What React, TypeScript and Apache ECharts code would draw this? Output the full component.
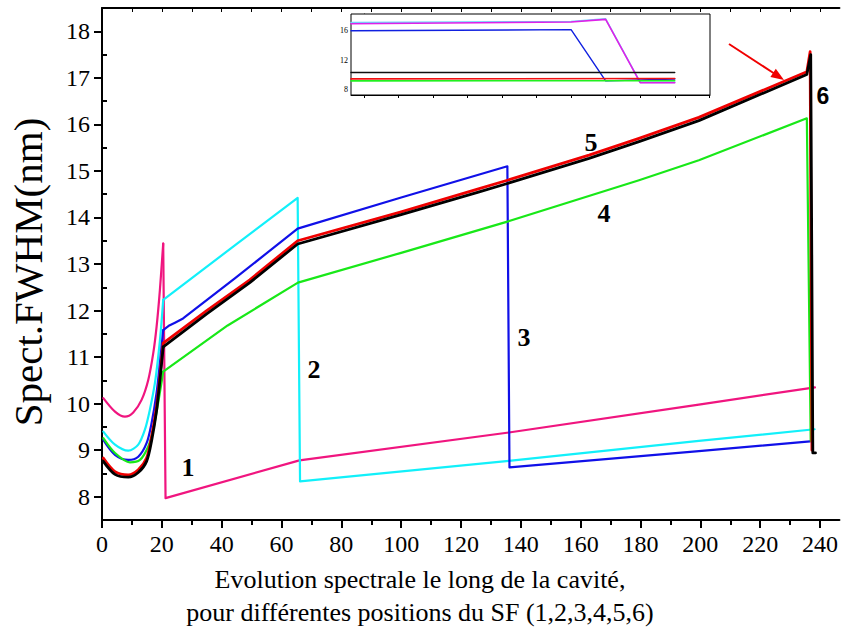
import React, { useEffect, useRef } from "react";
import * as echarts from "echarts";

// ---- axis ticks ----
const xMajor = [0, 20, 40, 60, 80, 100, 120, 140, 160, 180, 200, 220, 240];
const xMinor = [10, 30, 50, 70, 90, 110, 130, 150, 170, 190, 210, 230];
const xTop = [10, 20, 30, 40, 50, 60, 70, 80, 90, 100, 110, 120, 130, 140, 150, 160, 170, 180, 190, 200, 210, 220, 230, 240];
const yMajor = [8, 9, 10, 11, 12, 13, 14, 15, 16, 17, 18];
const yMinor = [8.5, 9.5, 10.5, 11.5, 12.5, 13.5, 14.5, 15.5, 16.5, 17.5];

// ---- main series: [position, FWHM]; "Dip" = curved start (0..20), "Tail" = straight part ----
const s1PinkDip = [
  [0.44, 10.12], [4.34, 9.83], [7.67, 9.72], [10.45, 9.81], [13.23, 10.08], [15.46, 10.51],
  [17.12, 11.08], [18.24, 11.65], [19.35, 12.44], [20.46, 13.44],
];
const s1PinkTail = [[20.46, 13.44], [21.24, 7.97], [66, 8.78], [136, 9.38], [199.5, 9.98], [238.3, 10.35]];

const s2CyanDip = [
  [0.44, 9.4], [4.34, 9.12], [8.78, 8.99], [12.12, 9.12], [14.34, 9.44], [16.0, 9.87],
  [17.68, 10.44], [18.79, 11.01], [19.68, 11.58], [20.46, 12.23],
];
const s2CyanTail = [[20.46, 12.23], [44.4, 13.4], [65.4, 14.42], [66.2, 8.33], [136, 8.77], [199.5, 9.2], [238.2, 9.45]];

const s3BlueDip = [
  [0.44, 9.22], [4.34, 8.9], [8.78, 8.79], [12.12, 8.86], [14.9, 9.15], [16.57, 9.58],
  [18.24, 10.23], [19.35, 10.87], [20.46, 11.58],
];
const s3BlueTail = [
  [20.46, 11.58], [22.5, 11.68], [24.4, 11.74], [27.1, 11.83], [44.4, 12.69], [65.4, 13.76],
  [100, 14.43], [135.5, 15.1], [136.2, 8.63], [199.5, 8.98], [236.7, 9.19],
];

const s4GreenDip = [
  [0.44, 9.26], [4.34, 8.94], [9.34, 8.74], [12.68, 8.79], [15.46, 9.08], [17.12, 9.44],
  [18.57, 9.94], [19.68, 10.37], [20.46, 10.69],
];
const s4GreenTail = [
  [20.46, 10.69], [42, 11.68], [65.5, 12.6], [100, 13.24], [135.5, 13.91], [179.5, 14.8],
  [199.5, 15.23], [235.6, 16.13], [236.9, 9.2],
];

const s5RedDip = [
  [0.44, 8.83], [4.34, 8.54], [8.78, 8.47], [12.12, 8.58], [14.9, 8.83], [16.57, 9.29],
  [18.24, 9.94], [19.35, 10.58], [20.46, 11.3],
];
const s5RedTail = [
  [20.46, 11.3], [35, 12.0], [49.4, 12.66], [65.4, 13.5], [100, 14.12], [126.1, 14.62],
  [135.5, 14.8], [162.8, 15.34], [179.5, 15.7], [199.5, 16.15], [235.6, 17.13], [236.7, 17.56], [237.3, 9.0],
];

const s6BlackDip = [
  [0.44, 8.76], [4.34, 8.48], [8.78, 8.42], [12.12, 8.52], [14.9, 8.76], [16.57, 9.2],
  [18.24, 9.85], [19.35, 10.5], [20.46, 11.22],
];
const s6BlackTail = [
  [20.46, 11.22], [35, 11.93], [49.4, 12.6], [65.4, 13.43], [100, 14.06], [126.1, 14.55],
  [135.5, 14.73], [162.8, 15.27], [179.5, 15.63], [199.5, 16.08], [235.6, 17.07], [236.9, 17.5],
  [237.6, 8.94], [238.5, 8.94],
];

// ---- inset ----
const insetXTicks = [0, 1, 2, 3, 4, 5, 6, 7, 8, 9, 10];
const insetYTicks = [8, 10, 12, 14, 16, 18];
const insetYLabels = [8, 12, 16];
const inCyan = [[-0.37, 17.12], [6, 17.27], [7, 17.62], [8, 8.95], [9, 8.95]];
const inMagenta = [[-0.37, 16.95], [6, 17.2], [7, 17.55], [8, 8.9], [9, 8.9]];
const inBlue = [[-0.37, 16.0], [6, 16.15], [7, 9.15], [9, 9.4]];
const inBlack = [[-0.37, 10.3], [9, 10.3]];
const inRed = [[-0.37, 9.42], [9, 9.48]];
const inGreen = [[-0.37, 9.15], [9, 9.17]];

const SERIF = "Liberation Serif";

export default function App() {
  const ref = useRef<HTMLDivElement>(null);
  useEffect(() => {
    if (!ref.current) return;
    const chart = echarts.init(ref.current, undefined, { renderer: "svg" });
    const line = (data: number[][], color: string, width: number, xi = 0, yi = 0, z = 2, smooth = false) => ({
      type: "line",
      data,
      xAxisIndex: xi,
      yAxisIndex: yi,
      symbol: "none",
      z,
      smooth: smooth ? 0.3 : false,
      lineStyle: { color, width, join: "round", cap: "round" },
      silent: true,
    });
    const pair = (dip: number[][], tail: number[][], color: string, width: number) => [
      line(dip, color, width, 0, 0, 2, true),
      line(tail, color, width, 0, 0, 2, false),
    ];
    const axLine = { show: true, lineStyle: { color: "#000", width: 2 } };
    chart.setOption({
      animation: false,
      backgroundColor: "#fff",
      grid: [
        { left: 102, top: 8, width: 739, height: 512, containLabel: false },
        { left: 351, top: 14, width: 359, height: 81, show: true, borderColor: "#000", borderWidth: 1, backgroundColor: "#fff", z: 5 },
      ],
      xAxis: [
        {
          gridIndex: 0, type: "value", min: 0, max: 246.5, position: "bottom",
          axisLine: axLine,
          axisTick: { show: true, customValues: xMajor, length: 8, lineStyle: { color: "#000", width: 2 } },
          axisLabel: { customValues: xMajor, fontSize: 24, fontFamily: SERIF, color: "#000", margin: 12 },
          splitLine: { show: false },
        },
        {
          gridIndex: 0, type: "value", min: 0, max: 246.5, position: "bottom",
          axisLine: { show: false },
          axisTick: { show: true, customValues: xMinor, length: 5, lineStyle: { color: "#000", width: 2 } },
          axisLabel: { show: false },
          splitLine: { show: false },
        },
        {
          gridIndex: 0, type: "value", min: 0, max: 246.5, position: "top",
          axisLine: axLine,
          axisTick: { show: true, inside: true, customValues: xTop, length: 4, lineStyle: { color: "#000", width: 1 } },
          axisLabel: { show: false },
          splitLine: { show: false },
        },
        {
          gridIndex: 1, type: "value", min: -0.37, max: 10.02, position: "bottom",
          axisLine: { show: true, lineStyle: { color: "#000", width: 1 } },
          axisTick: { show: true, customValues: insetXTicks, length: 3, lineStyle: { color: "#000", width: 1 } },
          axisLabel: { show: false },
          splitLine: { show: false },
        },
      ],
      yAxis: [
        {
          gridIndex: 0, type: "value", min: 7.5, max: 18.5,
          axisLine: axLine,
          axisTick: { show: true, customValues: yMajor, length: 8, lineStyle: { color: "#000", width: 2 } },
          axisLabel: { customValues: yMajor, fontSize: 24, fontFamily: SERIF, color: "#000", margin: 12 },
          splitLine: { show: false },
        },
        {
          gridIndex: 0, type: "value", min: 7.5, max: 18.5,
          axisLine: { show: false },
          axisTick: { show: true, customValues: yMinor, length: 5, lineStyle: { color: "#000", width: 2 } },
          axisLabel: { show: false },
          splitLine: { show: false },
        },
        {
          gridIndex: 1, type: "value", min: 7.22, max: 18.29,
          axisLine: { show: true, lineStyle: { color: "#000", width: 1 } },
          axisTick: { show: true, customValues: insetYTicks, length: 3, lineStyle: { color: "#000", width: 1 } },
          axisLabel: { customValues: insetYLabels, fontSize: 8, fontFamily: SERIF, color: "#000", margin: 3 },
          splitLine: { show: false },
        },
      ],
      series: [
        ...pair(s1PinkDip, s1PinkTail, "#F0157F", 2.2),
        ...pair(s2CyanDip, s2CyanTail, "#12F0FA", 2.2),
        ...pair(s3BlueDip, s3BlueTail, "#1010E8", 2.2),
        ...pair(s4GreenDip, s4GreenTail, "#18E818", 2.2),
        ...pair(s5RedDip, s5RedTail, "#F00000", 2.8),
        ...pair(s6BlackDip, s6BlackTail, "#000000", 2.8),
        line(inCyan, "#70D8F8", 1.6, 3, 2, 6),
        line(inMagenta, "#E020E8", 1.6, 3, 2, 6),
        line(inBlue, "#1020E0", 1.4, 3, 2, 6),
        line(inBlack, "#101010", 1.4, 3, 2, 6),
        line(inRed, "#F01010", 1.6, 3, 2, 6),
        line(inGreen, "#20F020", 1.6, 3, 2, 6),
      ],
      graphic: [
        { type: "text", x: 188, y: 467, z: 10, style: { text: "1", font: `bold 26px "${SERIF}"`, fill: "#000", align: "center", verticalAlign: "middle" } },
        { type: "text", x: 314, y: 369, z: 10, style: { text: "2", font: `bold 26px "${SERIF}"`, fill: "#000", align: "center", verticalAlign: "middle" } },
        { type: "text", x: 524, y: 337, z: 10, style: { text: "3", font: `bold 26px "${SERIF}"`, fill: "#000", align: "center", verticalAlign: "middle" } },
        { type: "text", x: 604, y: 213, z: 10, style: { text: "4", font: `bold 26px "${SERIF}"`, fill: "#000", align: "center", verticalAlign: "middle" } },
        { type: "text", x: 591, y: 142, z: 10, style: { text: "5", font: `bold 26px "${SERIF}"`, fill: "#000", align: "center", verticalAlign: "middle" } },
        { type: "text", x: 823, y: 96, z: 10, style: { text: "6", font: `bold 23px "Liberation Sans"`, fill: "#000", align: "center", verticalAlign: "middle" } },
        { type: "line", z: 10, shape: { x1: 729, y1: 44, x2: 775, y2: 74 }, style: { stroke: "#F00000", lineWidth: 2 } },
        { type: "polygon", z: 10, shape: { points: [[784, 80], [770.4, 77.1], [775.8, 68.7]] }, style: { fill: "#F00000" } },
        {
          type: "text", x: 28, y: 272, rotation: Math.PI / 2, z: 10,
          style: { text: "Spect.FWHM(nm)", font: `41px "${SERIF}"`, fill: "#000", align: "center", verticalAlign: "middle" },
        },
        { type: "text", x: 420, y: 579, z: 10, style: { text: "Evolution spectrale le long de la cavité,", font: `26px "${SERIF}"`, fill: "#000", align: "center", verticalAlign: "middle" } },
        { type: "text", x: 420, y: 612, z: 10, style: { text: "pour différentes positions du SF (1,2,3,4,5,6)", font: `26px "${SERIF}"`, fill: "#000", align: "center", verticalAlign: "middle" } },
      ],
    });
    return () => chart.dispose();
  }, []);
  return <div ref={ref} style={{ width: 841, height: 634, position: "absolute", left: 0, top: 0 }} />;
}
